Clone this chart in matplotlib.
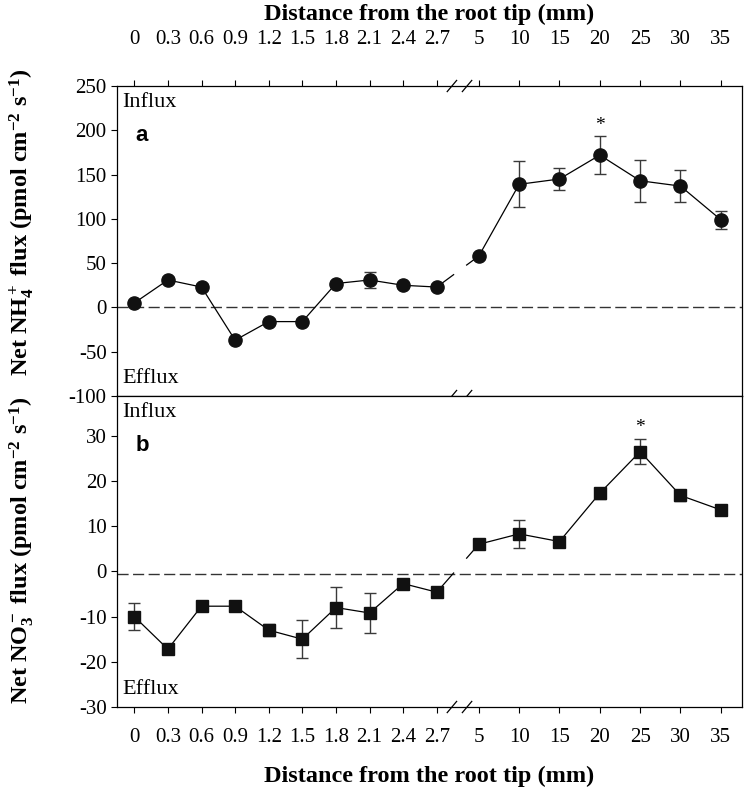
import matplotlib
matplotlib.use('Agg')
import matplotlib.pyplot as plt
import matplotlib.transforms as mtransforms
import numpy as np

plt.rcParams['font.family'] = ['Liberation Serif', 'DejaVu Serif']
plt.rcParams['mathtext.fontset'] = 'custom'
plt.rcParams['mathtext.rm'] = 'Liberation Serif:bold'
plt.rcParams['mathtext.it'] = 'Liberation Serif:bold'
plt.rcParams['mathtext.bf'] = 'Liberation Serif:bold'
plt.rcParams['axes.unicode_minus'] = False

# distance from the root tip (mm)
dist = [0, 0.3, 0.6, 0.9, 1.2, 1.5, 1.8, 2.1, 2.4, 2.7, 5, 10, 15, 20, 25, 30, 35]
dist_labels = ['0', '0.3', '0.6', '0.9', '1.2', '1.5', '1.8', '2.1', '2.4', '2.7',
               '5', '10', '15', '20', '25', '30', '35']

# net NH4+ flux
nh4 = [5, 31, 23, -37, -16, -16, 27, 31, 25, 23, 58, 139, 145, 172, 143, 137, 99]
nh4_err = [2, 3, 3, 3, 3, 3, 3, 9, 3, 3, 3, 26, 12, 21, 24, 18, 10]

# net NO3- flux
no3 = [-10, -17.2, -7.7, -7.7, -13, -15, -8, -9.2, -2.7, -4.6, 6, 8.3, 6.6, 17.3, 26.5, 16.8, 13.6]
no3_err = [2.9, 0.8, 0.5, 0.5, 1.3, 4.2, 4.6, 4.5, 0.5, 1.0, 0.6, 3.1, 0.6, 1.2, 2.8, 1.2, 0.5]

nh4_ticks = [250, 200, 150, 100, 50, 0, -50, -100]
no3_ticks = [30, 20, 10, 0, -10, -20, -30]


def xpos(d):
    # broken axis: fine scale below 2.7 mm, coarse scale from 5 mm
    if d <= 2.7:
        return d / 0.3
    return 10.25 + (d - 5) / 5 * 1.2


x = np.array([xpos(d) for d in dist])
n_left = 10

fig = plt.figure(figsize=(7.47, 8), dpi=100)
ax1 = fig.add_axes([0.1566, 0.505, 0.8367, 0.3875])
ax2 = fig.add_axes([0.1566, 0.11625, 0.8367, 0.38875])


def draw_series(ax, y, err, marker, zero):
    y = np.array(y, dtype=float)
    ax.axhline(zero, color='#333333', lw=1.0, dashes=(8, 3.2), zorder=1)
    ax.plot(x[:n_left], y[:n_left], color='k', lw=0.9, zorder=2)
    ax.plot(x[n_left:], y[n_left:], color='k', lw=0.9, zorder=2)
    # bridging segment with a gap at the axis break
    a = np.array([x[n_left - 1], y[n_left - 1]])
    b = np.array([x[n_left], y[n_left]])
    for t0, t1 in [(0.0, 0.4), (0.71, 1.0)]:
        p0 = a + t0 * (b - a)
        p1 = a + t1 * (b - a)
        ax.plot([p0[0], p1[0]], [p0[1], p1[1]], color='k', lw=0.9, zorder=2)
    ax.errorbar(x, y, yerr=err, fmt='none', ecolor='#3a3a3a', elinewidth=1.0,
                capsize=4, capthick=1.0, zorder=3)
    ax.plot(x, y, ls='none', marker=marker, ms=9.5 if marker == 'o' else 9,
            mfc='#111111', mec='#111111', zorder=4)


draw_series(ax1, nh4, nh4_err, 'o', 0)
draw_series(ax2, no3, no3_err, 's', -0.5)

for ax in (ax1, ax2):
    ax.set_xlim(-0.515, 18.08)
    ax.set_xticks(x)
    ax.tick_params(direction='out', length=4, width=0.8, labelsize=15)
    for s in ax.spines.values():
        s.set_linewidth(0.9)

ax1.set_ylim(-100, 250)
ax1.set_yticks(nh4_ticks)
ax1.set_yticklabels([str(v) for v in nh4_ticks])
ax1.xaxis.tick_top()
ax1.set_xticklabels(dist_labels)
ax1.tick_params(axis='x', pad=23)
ax1.xaxis.set_label_position('top')
ax1.set_xlabel('Distance from the root tip (mm)', fontsize=17.5, fontweight='bold', labelpad=7)

ax2.set_ylim(-30, 38.8)
ax2.set_yticks(no3_ticks)
ax2.set_yticklabels([str(v) for v in no3_ticks])
ax2.set_xticklabels(dist_labels)
ax2.tick_params(axis='x', pad=11)
ax2.set_xlabel('Distance from the root tip (mm)', fontsize=17.5, fontweight='bold', labelpad=14)

# axis break marks
for ax, ys in ((ax1, (0, 1)), (ax2, (0,))):
    trans = mtransforms.blended_transform_factory(ax.transData, ax.transAxes)
    for yy in ys:
        for xc in (9.45, 9.9):
            ax.plot([xc - 0.14, xc + 0.14], [yy - 0.018, yy + 0.018], color='k',
                    lw=0.9, transform=trans, clip_on=False, zorder=5)

# annotations
ax1.text(0.008, 0.978, 'Influx', transform=ax1.transAxes, fontsize=16, va='top', ha='left')
ax1.text(0.03, 0.875, 'a', transform=ax1.transAxes, fontsize=16, fontweight='bold',
         family='Liberation Sans', va='top', ha='left')
ax1.text(0.008, 0.025, 'Efflux', transform=ax1.transAxes, fontsize=16, va='bottom', ha='left')
ax1.text(xpos(20), 196, '*', fontsize=14, ha='center', va='bottom')

ax2.text(0.008, 0.978, 'Influx', transform=ax2.transAxes, fontsize=16, va='top', ha='left')
ax2.text(0.03, 0.875, 'b', transform=ax2.transAxes, fontsize=16, fontweight='bold',
         family='Liberation Sans', va='top', ha='left')
ax2.text(0.008, 0.025, 'Efflux', transform=ax2.transAxes, fontsize=16, va='bottom', ha='left')
ax2.text(xpos(25), 30, '*', fontsize=14, ha='center', va='bottom')

fig.text(22 / 747, 1 - 222 / 800, r'Net NH$_4^+$ flux (pmol cm$^{-2}$ s$^{-1}$)',
         rotation=90, fontsize=17.5, fontweight='bold', ha='center', va='center')
fig.text(22 / 747, 1 - 550 / 800, r'Net NO$_3^-$ flux (pmol cm$^{-2}$ s$^{-1}$)',
         rotation=90, fontsize=17.5, fontweight='bold', ha='center', va='center')

fig.savefig('out.png', dpi=100)
